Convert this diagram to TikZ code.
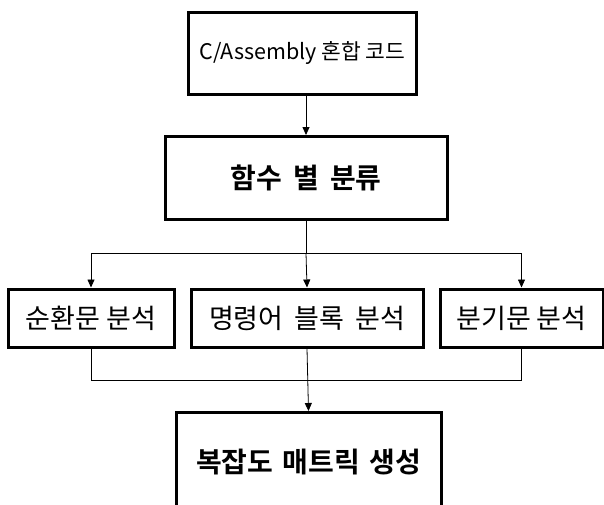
\documentclass[tikz,border=0pt]{standalone}
\usepackage{fontspec}
\newfontfamily\kr{Noto Sans CJK KR}[BoldFont={Noto Sans CJK KR Bold}]
\usetikzlibrary{arrows.meta}
\tikzset{
  box/.style={draw=black, line width=3pt, fill=white, inner sep=0pt, font=\kr},
  bigtext/.style={font=\kr\fontsize{27}{31}\selectfont},
  boldtext/.style={font=\kr\bfseries\fontsize{28}{32}\selectfont},
  conn/.style={draw=black, line width=0.8pt},
  arr/.style={conn, -{Triangle[length=8pt,width=7pt]}},
}
\begin{document}
\begin{tikzpicture}[x=1pt,y=-1pt]
\useasboundingbox (0,0) rectangle (604,504);
\clip (0,0) rectangle (604,504);
\node[box, minimum width=228pt, minimum height=82pt, font=\kr\fontsize{21.5}{25}\selectfont] (b1) at (302.5,53) {C/Assembly 혼합 코드};
\node[box, boldtext, minimum width=282pt, minimum height=83pt] (b2) at (306,178) {함수\hspace{5pt} 별\hspace{5pt} 분류};
\node[box, bigtext, minimum width=166pt, minimum height=58pt] (b3a) at (91,318) {순환문 분석};
\node[box, bigtext, minimum width=232pt, minimum height=58pt] (b3b) at (307,318) {명령어\hspace{5pt} 블록\hspace{5pt} 분석};
\node[box, bigtext, minimum width=163pt, minimum height=58pt] (b3c) at (521.5,318) {분기문 분석};
\node[box, boldtext, minimum width=265pt, minimum height=100pt] (b4) at (308.5,462.5) {복잡도\hspace{3pt} 매트릭\hspace{3pt} 생성};
\coordinate (split) at (b2.south |- 0,253);
\coordinate (merge) at (b3b.south |- 0,380);
\draw[arr] (b1.south -| b2.north) -- (b2.north);
\draw[conn] (b2.south) -- (split);
\draw[arr] (split) -| (b3a.north);
\draw[arr] (split) -| (b3c.north);
\draw[arr] (split) -- (b3b.north);
\draw[conn] (b3a.south) |- (merge);
\draw[conn] (b3c.south) |- (merge);
\draw[arr] (b3b.south) -- (b4.north);
\end{tikzpicture}
\end{document}
